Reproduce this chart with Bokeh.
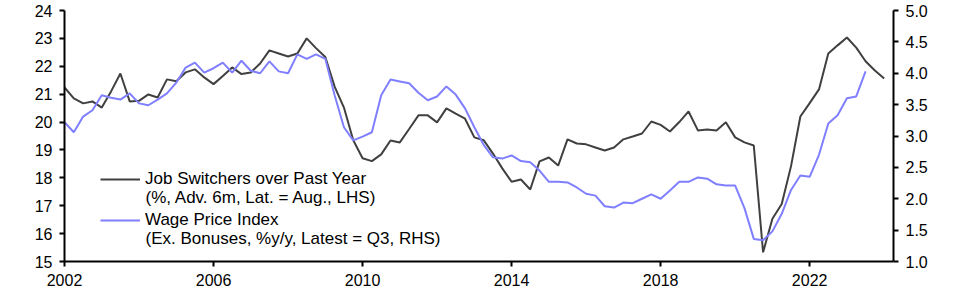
import numpy as np
from bokeh.plotting import figure
from bokeh.models import (Range1d, LinearAxis, FixedTicker, Legend, LegendItem,
                          NumeralTickFormatter, Label)
from bokeh.embed import file_html
from bokeh.resources import INLINE

# Quarterly data, 2002Q1 onwards
job_switchers = [
    21.24, 20.85, 20.67, 20.74, 20.52, 21.10, 21.74, 20.74, 20.76, 20.99,
    20.88, 21.53, 21.46, 21.78, 21.89, 21.60, 21.36, 21.65, 21.96, 21.72,
    21.78, 22.10, 22.57, 22.46, 22.35, 22.46, 23.00, 22.65, 22.33, 21.27,
    20.52, 19.35, 18.70, 18.60, 18.84, 19.34, 19.27, 19.75, 20.24, 20.24,
    19.99, 20.49, 20.30, 20.12, 19.45, 19.35, 18.87, 18.34, 17.86, 17.94,
    17.58, 18.59, 18.73, 18.44, 19.38, 19.23, 19.20, 19.09, 18.98, 19.09,
    19.38, 19.48, 19.59, 20.02, 19.90, 19.66, 20.00, 20.38, 19.70, 19.73,
    19.70, 19.99, 19.45, 19.27, 19.16, 15.33, 16.53, 17.06, 18.42, 20.20,
    20.68, 21.17, 22.46, 22.75, 23.03, 22.67, 22.18, 21.85, 21.56,
]
wage_price_index = [
    3.22, 3.06, 3.31, 3.41, 3.65, 3.61, 3.58, 3.68, 3.52, 3.49,
    3.58, 3.68, 3.85, 4.09, 4.17, 4.01, 4.08, 4.17, 4.01, 4.20,
    4.04, 4.00, 4.19, 4.03, 4.00, 4.30, 4.23, 4.30, 4.23, 3.65,
    3.14, 2.93, 2.99, 3.06, 3.65, 3.90, 3.87, 3.84, 3.69, 3.57,
    3.63, 3.79, 3.66, 3.44, 3.14, 2.86, 2.66, 2.64, 2.69, 2.60,
    2.58, 2.45, 2.27, 2.27, 2.26, 2.18, 2.08, 2.05, 1.88, 1.86,
    1.94, 1.93, 2.00, 2.07, 2.00, 2.13, 2.27, 2.27, 2.34, 2.32,
    2.23, 2.21, 2.21, 1.85, 1.36, 1.34, 1.48, 1.76, 2.14, 2.37,
    2.35, 2.70, 3.20, 3.33, 3.60, 3.63, 4.03,
]
start_year = 2002
x_ticks = [2002, 2006, 2010, 2014, 2018, 2022]
lhs_ticks = [15, 16, 17, 18, 19, 20, 21, 22, 23, 24]
rhs_ticks = [1.0, 1.5, 2.0, 2.5, 3.0, 3.5, 4.0, 4.5, 5.0]
name_js = "Job Switchers over Past Year"
note_js = "(%, Adv. 6m, Lat. = Aug., LHS)"
name_wpi = "Wage Price Index"
note_wpi = "(Ex. Bonuses, %y/y, Latest = Q3, RHS)"

x_js = start_year + np.arange(len(job_switchers)) / 4.0
x_wpi = start_year + np.arange(len(wage_price_index)) / 4.0

FONT = "Liberation Sans"
FS = "16px"
LFS = "17px"

p = figure(width=966, height=294, output_backend="svg", toolbar_location=None,
           x_range=Range1d(2002, 2024.25), y_range=Range1d(15, 24),
           min_border_left=64, min_border_right=73, min_border_top=10, min_border_bottom=33)
p.extra_y_ranges = {"rhs": Range1d(1, 5)}
p.outline_line_color = None
p.xgrid.visible = False
p.ygrid.visible = False
p.background_fill_color = "white"
p.border_fill_color = "white"

r1 = p.line(x_js, job_switchers, line_color="#404040", line_width=2)
r2 = p.line(x_wpi, wage_price_index, line_color="#7f7fff", line_width=2, y_range_name="rhs")

rax = LinearAxis(y_range_name="rhs")
p.add_layout(rax, "right")

for ax in [p.xaxis[0], p.yaxis[0], rax]:
    ax.axis_line_color = "black"
    ax.axis_line_width = 2
    ax.major_tick_line_color = "black"
    ax.major_tick_line_width = 2
    ax.major_tick_out = 5
    ax.major_tick_in = 0
    ax.minor_tick_line_color = None
    ax.major_label_text_font = FONT
    ax.major_label_text_font_size = FS
    ax.major_label_text_color = "black"
    ax.major_label_standoff = 7

p.xaxis[0].ticker = FixedTicker(ticks=x_ticks)
p.yaxis[0].ticker = FixedTicker(ticks=lhs_ticks)
rax.ticker = FixedTicker(ticks=rhs_ticks)
rax.formatter = NumeralTickFormatter(format="0.0")

legend = Legend(items=[LegendItem(label=name_js, renderers=[r1]),
                       LegendItem(label=name_wpi, renderers=[r2])],
                location=(36, 31), orientation="vertical",
                border_line_color=None, background_fill_alpha=0,
                label_text_font=FONT, label_text_font_size=LFS, label_text_color="black",
                label_text_line_height=1.2, label_height=20,
                glyph_width=40, glyph_height=16, label_standoff=5, spacing=21,
                padding=0, margin=0)
p.add_layout(legend)

# second lines of the legend entries (data coordinates on the left axis)
for txt, yy in [(note_js, 17.30), (note_wpi, 15.83)]:
    p.add_layout(Label(x=2004.175, y=yy, text=txt, text_font=FONT, text_font_size=LFS,
                       text_color="black", text_baseline="middle", text_align="left"))

open("out.html", "w").write(file_html(p, INLINE))
